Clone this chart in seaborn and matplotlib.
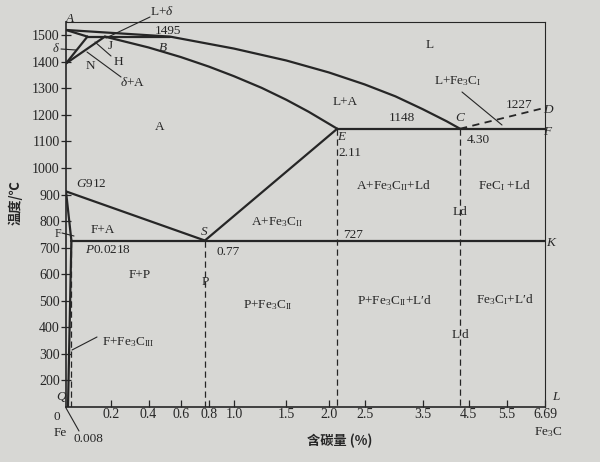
import numpy as np
import pandas as pd
import matplotlib
matplotlib.use('Agg')
import matplotlib.pyplot as plt
import seaborn as sns

# key points of the Fe-Fe3C diagram: carbon content (%) and temperature (C)
pt_name = ['A', 'B', 'C', 'D', 'E', 'F', 'G', 'H', 'J', 'K', 'L', 'N', 'P', 'Q', 'S']
pt_carbon = [0, 0.53, 4.30, 6.69, 2.11, 6.69, 0, 0.09, 0.17, 6.69, 6.69, 0, 0.0218, 0.008, 0.77]
pt_temp = [1520, 1495, 1148, 1227, 1148, 1148, 912, 1495, 1495, 727, 0, 1394, 727, 0, 727]

# straight phase boundaries, each given as a path through the named points
solid_lines = ['AH', 'HB', 'NH', 'NJ', 'EF', 'ES', 'GS', 'GP', 'PQ', 'PK']
dashed_lines = ['CD']
# dashed verticals dropped from these points to the bottom
drop_points = ['P', 'S', 'E', 'C']

# curved boundaries
liquidus_carbon = [0, 0.53, 1.0, 1.5, 2.0, 2.5, 3.0, 3.5, 4.0, 4.30]
liquidus_temp = [1520, 1495, 1450, 1405, 1360, 1315, 1270, 1222, 1176, 1148]
solidus_carbon = [0.17, 0.4, 0.6, 0.8, 1.0, 1.25, 1.5, 1.75, 2.11]
solidus_temp = [1495, 1454, 1418, 1382, 1346, 1302, 1257, 1212, 1148]

xtick_vals = [0.2, 0.4, 0.6, 0.8, 1.0, 1.5, 2.0, 2.5, 3.5, 4.5, 5.5, 6.69]
xtick_text = ['0.2', '0.4', '0.6', '0.8', '1.0', '1.5', '2.0', '2.5', '3.5', '4.5', '5.5', '6.69']
ytick_vals = [200, 300, 400, 500, 600, 700, 800, 900, 1000, 1100, 1200, 1300, 1400, 1500]

INK = '#262626'
PAPER = '#d7d7d4'


def path_frame(paths):
    pts = dict(zip(pt_name, zip(pt_carbon, pt_temp)))
    rows = []
    for i, p in enumerate(paths):
        for ch in p:
            rows.append({'seg': i, 'carbon': pts[ch][0], 'temp': pts[ch][1]})
    return pd.DataFrame(rows)


def drop_frame(names):
    pts = dict(zip(pt_name, zip(pt_carbon, pt_temp)))
    rows = []
    for i, n in enumerate(names):
        rows.append({'seg': i, 'carbon': pts[n][0], 'temp': pts[n][1]})
        rows.append({'seg': i, 'carbon': pts[n][0], 'temp': 0})
    return pd.DataFrame(rows)


def curve_frame():
    a = pd.DataFrame({'seg': 100, 'carbon': liquidus_carbon, 'temp': liquidus_temp})
    b = pd.DataFrame({'seg': 101, 'carbon': solidus_carbon, 'temp': solidus_temp})
    return pd.concat([a, b], ignore_index=True)


# the book stretches low carbon contents, roughly log(1 + c/0.9)
def x_fwd(c):
    return np.log1p(np.asarray(c, dtype=float) / 0.9)


def x_inv(u):
    return 0.9 * np.expm1(u)


# temperatures below 200 are squeezed to half height
def y_fwd(t):
    t = np.asarray(t, dtype=float)
    return np.where(t < 200, 200 - (200 - t) * 0.5, t)


def y_inv(u):
    u = np.asarray(u, dtype=float)
    return np.where(u < 200, 200 - (200 - u) / 0.5, u)


sns.set_style('ticks')
plt.rcParams['font.family'] = ['Liberation Serif', 'Noto Sans CJK SC']
plt.rcParams['mathtext.fontset'] = 'custom'
plt.rcParams['mathtext.rm'] = 'Liberation Serif'
plt.rcParams['mathtext.it'] = 'Liberation Serif:italic'

fig = plt.figure(figsize=(6, 4.62), dpi=100, facecolor=PAPER)
X0, X1, YB, YT = 66, 545, 407, 22
ax = fig.add_axes([X0 / 600, 1 - YB / 462, (X1 - X0) / 600, (YB - YT) / 462])
ax.set_facecolor(PAPER)
ax.set_xscale('function', functions=(x_fwd, x_inv))
ax.set_yscale('function', functions=(y_fwd, y_inv))

solid = pd.concat([path_frame(solid_lines), curve_frame()], ignore_index=True)
sns.lineplot(data=solid, x='carbon', y='temp', units='seg',
             estimator=None, sort=False, color=INK, lw=1.6, legend=False, ax=ax)
sns.lineplot(data=path_frame(dashed_lines), x='carbon', y='temp', units='seg',
             estimator=None, sort=False, color=INK, lw=1.3, linestyle=(0, (4, 3)),
             legend=False, ax=ax)
sns.lineplot(data=drop_frame(drop_points), x='carbon', y='temp', units='seg',
             estimator=None, sort=False, color=INK, lw=0.9, linestyle=(0, (5, 3)),
             legend=False, ax=ax)

ax.set_xlim(0, 6.69)
ax.set_ylim(0, 1550)
ax.set_xticks(xtick_vals)
ax.set_xticklabels(xtick_text)
ax.set_yticks(ytick_vals)
ax.minorticks_off()
ax.tick_params(axis='x', direction='in', length=5, width=0.9, pad=1,
               labelsize=10, colors=INK)
ax.tick_params(axis='y', direction='inout', length=7, width=0.9, pad=1,
               labelsize=10, colors=INK)
ax.set_xlabel('')
ax.set_ylabel('')
for side in ['left', 'bottom']:
    ax.spines[side].set_linewidth(1.2)
for side in ['top', 'right']:
    ax.spines[side].set_linewidth(0.8)
for sp in ax.spines.values():
    sp.set_color(INK)


def put(px, py, s, **kw):
    opts = dict(ha='center', va='center', fontsize=9.5, color=INK)
    opts.update(kw)
    ax.text((px - X0) / (X1 - X0), (YB - py) / (YB - YT), s,
            transform=ax.transAxes, **opts)


def leader(p1, p2):
    ax.plot([(p1[0] - X0) / (X1 - X0), (p2[0] - X0) / (X1 - X0)],
            [(YB - p1[1]) / (YB - YT), (YB - p2[1]) / (YB - YT)],
            transform=ax.transAxes, clip_on=False, color=INK, lw=0.8)


# upper left corner (delta region)
put(70, 19, 'A', style='italic')
put(162, 11, r'L+$\delta$')
leader((106, 38), (150, 17))
put(168, 31, '1495')
put(163, 48, 'B', style='italic')
put(110, 46, 'J')
put(118, 62, 'H')
leader((95, 42), (111, 56))
put(90, 66, 'N')
put(133, 83, r'$\delta$+A')
leader((87, 52), (121, 77))
put(56, 49, r'$\delta$', fontsize=9)
leader((61, 49), (76, 50))

# liquid side
put(430, 45, 'L')
put(458, 81, r'L+Fe$_3$C$_{\rm I}$')
leader((462, 92), (502, 125))
put(519, 105, '1227')
put(548, 110, 'D', style='italic')
put(547, 132, 'F', style='italic')
put(460, 118, 'C', style='italic')
put(478, 140, '4.30')
put(402, 118, '1148')
put(345, 102, 'L+A')
put(160, 127, 'A')
put(341, 137, 'E', style='italic')
put(350, 153, '2.11')

# austenite / ferrite corner
put(91, 184, r'$G$912')
put(103, 230, 'F+A')
put(58, 234, 'F', fontsize=8.5)
leader((62, 233), (74, 236))
put(108, 250, r'$P$0.0218')
put(204, 232, 'S', style='italic')
put(228, 252, '0.77')
put(277, 222, r'A+Fe$_3$C$_{\rm II}$')
put(353, 235, '727')
put(551, 243, 'K', style='italic')
put(393, 186, r'A+Fe$_3$C$_{\rm II}$+Ld')
put(504, 186, r'FeC$_{\rm I}$ +Ld')
put(460, 212, 'Ld')

# room temperature structures
put(140, 275, 'F+P')
put(205, 282, 'P')
put(268, 305, r'P+Fe$_3$C$_{\rm II}$')
put(395, 301, r'P+Fe$_3$C$_{\rm II}$+L′d')
put(505, 300, r'Fe$_3$C$_{\rm I}$+L′d')
put(460, 335, 'L′d')
put(128, 342, r'F+Fe$_3$C$_{\rm III}$')
leader((72, 350), (97, 337))

# bottom corners and axis titles
put(61, 397, 'Q', style='italic')
put(57, 417, '0')
put(60, 433, 'Fe')
put(88, 439, '0.008')
leader((66, 408), (79, 431))
put(556, 397, 'L', style='italic')
put(548, 432, r'Fe$_3$C')
put(340, 441, '含碳量 (%)', fontsize=9.5, fontweight='bold',
    family=['Noto Sans CJK SC', 'DejaVu Sans'])
put(15, 203, '温度/℃', rotation=90, fontsize=9.5, fontweight='bold',
    family=['Noto Sans CJK SC', 'DejaVu Sans'])

fig.savefig('out.png', dpi=100, facecolor=PAPER)
